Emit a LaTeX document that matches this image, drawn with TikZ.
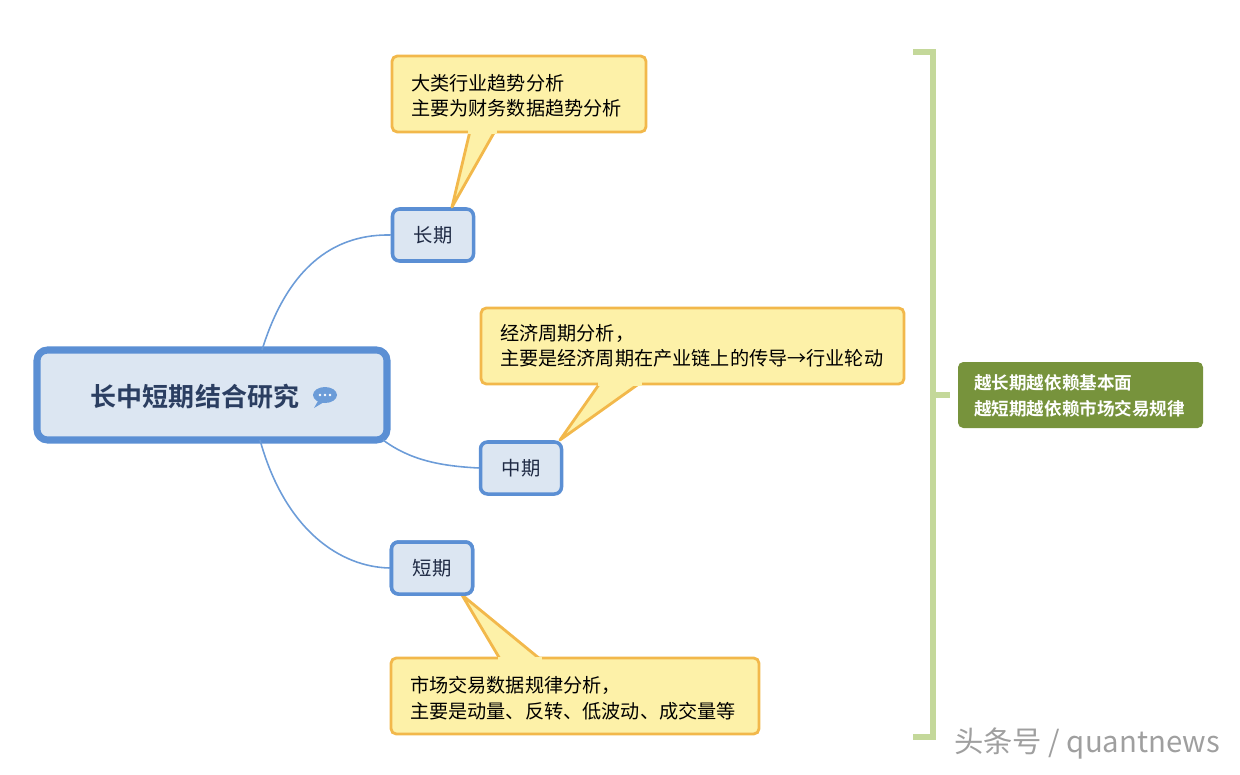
\documentclass[tikz,border=0pt]{standalone}
\usepackage{fontspec}
\setmainfont{Noto Sans CJK SC}
\newfontfamily\cjkb{Noto Sans CJK SC Bold}
\usetikzlibrary{shapes.geometric}
\definecolor{nodefill}{HTML}{DCE6F2}
\definecolor{nodeline}{HTML}{5B8FD4}
\definecolor{conn}{HTML}{6C9CD8}
\definecolor{callfill}{HTML}{FDF1A8}
\definecolor{callline}{HTML}{F2B84B}
\definecolor{brk}{HTML}{C4D89A}
\definecolor{gbox}{HTML}{77933C}
\definecolor{txt}{HTML}{1F2A44}
\tikzset{
  topic/.style={draw=nodeline,fill=nodefill,line width=2pt,rounded corners=4pt,minimum width=81*0.02cm,minimum height=52*0.02cm,font=\fontsize{11}{13}\selectfont,text=txt},
  callout/.style={draw=callline,fill=callfill,line width=1.6pt,rounded corners=3pt},
  ctext/.style={anchor=west,align=left,font=\fontsize{10.9}{14.5}\selectfont,text=black},
  link/.style={draw=conn,line width=0.9pt}
}
\begin{document}
\begin{tikzpicture}[x=0.02cm,y=-0.02cm]
\useasboundingbox (0,0) rectangle (1240,774);
\node[topic] (long) at (433,235) {长期};
\node[topic] (mid) at (521,468) {中期};
\node[topic] (short) at (432,568) {短期};
\node[draw=nodeline,fill=nodefill,line width=4pt,rounded corners=6pt,minimum width=350*0.02cm,minimum height=90*0.02cm] (root) at (212,395) {};
\node[font=\cjkb\fontsize{14.8}{17}\selectfont,text=txt!80!nodeline] (roottxt) at (195,397) {长中短期结合研究};
% speech icon
\fill[conn] (325,395) ellipse (12 and 8);
\fill[conn] (318,401) -- (314,408) -- (324,402) -- cycle;
\foreach \dx in {-5,0,5} \fill[white] (325+\dx,395) circle (1.4);
\coordinate (rt) at (262,350);
\coordinate (rb1) at (383,440);
\coordinate (rb2) at (260,440);
\draw[link] (rt) .. controls (290,260) and (340,234) .. (long.west);
\draw[link] (rb1) .. controls (410,460) and (440,466) .. (mid.west);
\draw[link] (rb2) .. controls (285,530) and (340,567) .. (short.west);
% callouts
\coordinate (p1) at (452,207);
\draw[callout] (392,56) rectangle (646,132);
\fill[callfill,draw=callline,line width=1.6pt,line join=round] (470,131) -- (p1) -- (495,131);
\fill[callfill] (468,128) rectangle (497,133.5);
\node[ctext] (c1) at (405,96) {大类行业趋势分析\\主要为财务数据趋势分析};
\coordinate (p2) at (560,440);
\draw[callout] (481,308) rectangle (904,384);
\fill[callfill,draw=callline,line width=1.6pt,line join=round] (600,383) -- (p2) -- (640,383);
\fill[callfill] (598,380) rectangle (642,385.5);
\node[ctext] (c2) at (494,346) {经济周期分析，\\主要是经济周期在产业链上的传导→行业轮动};
\coordinate (p3) at (462,595);
\draw[callout] (391,658) rectangle (759,734);
\fill[callfill,draw=callline,line width=1.6pt,line join=round] (500,659) -- (p3) -- (540,659);
\fill[callfill] (498,656.5) rectangle (542,662);
\node[ctext] (c3) at (404,698) {市场交易数据规律分析，\\主要是动量、反转、低波动、成交量等};
\fill[white] (430,575) rectangle (470,590);
\node[topic] at (432,568) {短期};
% bracket
\draw[brk,line width=3.5pt] (913,52) -- (933,52) -- (933,737) -- (913,737);
\draw[brk,line width=3.5pt] (933,395) -- (950,395);
\node[fill=gbox,rounded corners=3pt,minimum width=245*0.02cm,minimum height=66*0.02cm] (g) at (1080.5,395) {};
\node[anchor=west,align=left,text=white,font=\cjkb\fontsize{10}{14.5}\selectfont] (gt) at (968,396) {越长期越依赖基本面\\越短期越依赖市场交易规律};
\node[text=gray!75,font=\fontsize{16.7}{19}\selectfont] (wm) at (1087,743) {头条号 / quantnews};
\end{tikzpicture}
\end{document}
